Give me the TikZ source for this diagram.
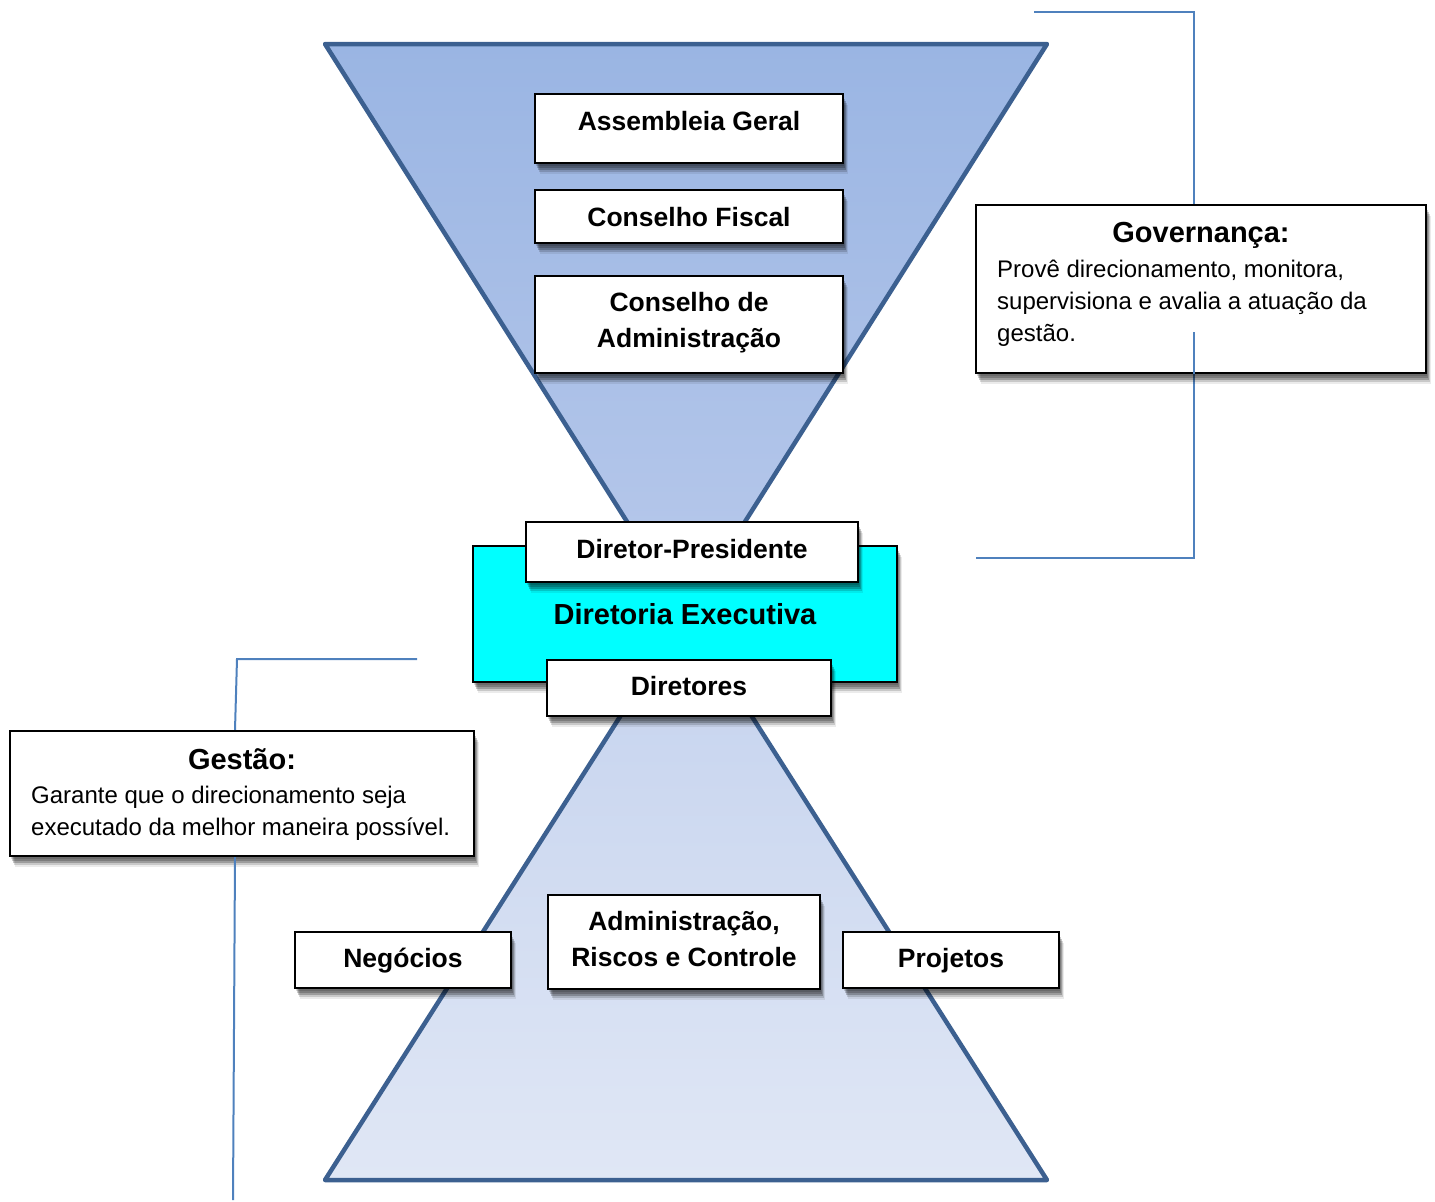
\documentclass[tikz,border=0pt]{standalone}
\usepackage{fontspec}
\setmainfont{Liberation Sans}
\usetikzlibrary{positioning}
\definecolor{tri}{RGB}{60,96,144}
\definecolor{topA}{RGB}{154,181,227}
\definecolor{topB}{RGB}{184,201,235}
\definecolor{botA}{RGB}{196,210,238}
\definecolor{botB}{RGB}{224,231,245}
\definecolor{conn}{RGB}{79,129,189}
\definecolor{cyanbox}{RGB}{0,255,255}
\newcommand\boxfont{\fontsize{26.5}{36}\selectfont\bfseries}
\newcommand\bigboxfont{\fontsize{29}{36}\selectfont\bfseries}
\newcommand\bodyfont{\fontsize{24}{32}\selectfont}
\tikzset{
  shadowed/.style={
    preaction={fill=black,opacity=.15,transform canvas={xshift=1pt,yshift=-3pt}},
    preaction={fill=black,opacity=.20,transform canvas={xshift=2pt,yshift=-5pt}},
    preaction={fill=black,opacity=.22,transform canvas={xshift=3pt,yshift=-7pt}},
    preaction={fill=black,opacity=.15,transform canvas={xshift=4pt,yshift=-9pt}},
    preaction={fill=black,opacity=.08,transform canvas={xshift=5pt,yshift=-11pt}}},
  orgbox/.style={draw=black, line width=2.2pt, fill=white, inner sep=0pt, shadowed,
    font=\boxfont, text height=19pt, text depth=0pt, align=center},
  infobox/.style={draw=black, line width=2.2pt, fill=white, inner sep=0pt, shadowed},
  trishape/.style={draw=tri, line width=4.5pt, line join=round},
  connector/.style={draw=conn, line width=2pt},
}
\begin{document}
\begin{tikzpicture}[x=1pt,y=-1pt]
\useasboundingbox (0,0) rectangle (1435,1202);
% triangles
\shadedraw[trishape, top color=topA, bottom color=topB] (325,44) -- (1047,44) -- (686,615) -- cycle;
\shadedraw[trishape, top color=botA, bottom color=botB] (686,613) -- (1047,1180) -- (325,1180) -- cycle;

% coordinates for connector ends
\coordinate (g1) at (1034,12);
\coordinate (g2) at (1194,12);
\coordinate (g3) at (1194,558);
\coordinate (g4) at (976,558);
\coordinate (g5) at (1194,332);
\coordinate (h1) at (417,659);
\coordinate (h2) at (237,659);
\coordinate (h4) at (233,1200);

% governance bracket (behind box)
\draw[connector] (g1) -- (g2) -- (g3) -- (g4);

% boxes
\node[infobox, minimum width=450, minimum height=168] (gov) at (1201,289) {};
\node[font=\bigboxfont, anchor=base, inner sep=0pt] (govt) at (1201,242) {Governança:};
\node[font=\bodyfont, anchor=base west, align=left, inner sep=0pt] (govb) at (997,341)
  {Provê direcionamento, monitora,\\supervisiona e avalia a atuação da\\gestão.};
\draw[connector] (g5) -- (g5 |- gov.south);

\node[infobox, minimum width=464, minimum height=125] (ges) at (242,793.5) {};
\draw[connector] (h1) -- (h2) -- ([xshift=-7pt]ges.north);
\draw[connector] ([xshift=-7pt]ges.south) -- (h4);
\node[font=\bigboxfont, anchor=base, inner sep=0pt] (gest) at (242,769) {Gestão:};
\node[font=\bodyfont, anchor=base west, align=left, inner sep=0pt] (gesb) at (31,835)
  {Garante que o direcionamento seja\\executado da melhor maneira possível.};

\node[orgbox, minimum width=308, minimum height=69, text depth=15pt] (ag) at (689,128.5) {Assembleia Geral};
\node[orgbox, minimum width=308, minimum height=53] (cf) at (689,216.5) {Conselho Fiscal};
\node[orgbox, minimum width=308, minimum height=97, text height=55pt, text depth=9pt] (ca) at (689,324.5) {Conselho de\\Administração};

\node[orgbox, fill=cyanbox, minimum width=424, minimum height=136, font=\bigboxfont, text height=20.8pt] (de) at (685,614) {Diretoria Executiva};
\node[orgbox, minimum width=332, minimum height=60, text depth=6pt] (dp) at (692,552) {Diretor-Presidente};
\node[orgbox, minimum width=284, minimum height=56, text depth=4pt] (di) at (689,688) {Diretores};

\node[orgbox, minimum width=216, minimum height=56, text depth=4pt] (neg) at (403,960) {Negócios};
\node[orgbox, minimum width=272, minimum height=94, text height=55pt, text depth=6pt] (arc) at (684,942) {Administração,\\Riscos e Controle};
\node[orgbox, minimum width=216, minimum height=56, text depth=4pt] (proj) at (951,960) {Projetos};
\end{tikzpicture}
\end{document}
